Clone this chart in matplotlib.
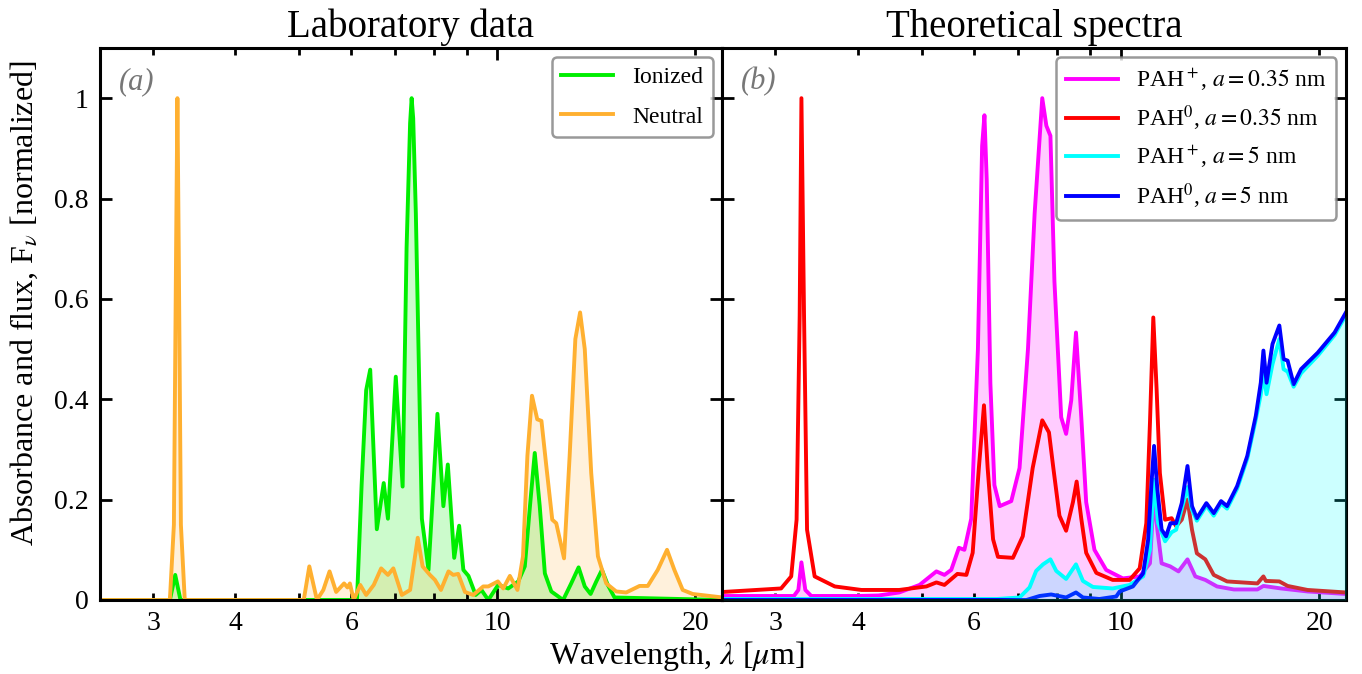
#!/usr/bin/env python3
"""PAH spectra: laboratory absorbance vs. theoretical emission (two panels)."""

import matplotlib
matplotlib.use("Agg")
import matplotlib.pyplot as plt
from matplotlib.ticker import FixedLocator, FixedFormatter, NullFormatter

# --- panel (a): laboratory data -------------------------------------------
ion_wl = [2.5, 3.18, 3.24, 3.30, 6.05, 6.12, 6.22, 6.32, 6.41, 6.56, 6.72, 6.82,
          7.01, 7.18, 7.28, 7.37, 7.41, 7.45, 7.52, 7.68, 7.86, 7.97, 8.11, 8.28,
          8.41, 8.60, 8.75, 8.88, 9.04, 9.27, 9.46, 9.69, 10.03, 10.39, 10.76,
          11.01, 11.21, 11.40, 11.60, 11.81, 12.08, 12.59, 12.95, 13.29, 13.58,
          13.86, 14.14, 14.42, 14.72, 15.07, 22.0]
ion_val = [0.0, 0.0, 0.05, 0.0, 0.0, 0.0, 0.229, 0.418, 0.459, 0.141, 0.233, 0.162,
           0.445, 0.226, 0.702, 0.95, 1.0, 0.96, 0.77, 0.162, 0.06, 0.196, 0.371, 0.187,
           0.27, 0.084, 0.148, 0.06, 0.048, 0.01, 0.02, 0.0, 0.03, 0.023, 0.037,
           0.067, 0.187, 0.293, 0.187, 0.053, 0.017, 0.0, 0.033, 0.065, 0.027,
           0.012, 0.037, 0.06, 0.03, 0.005, 0.0]

neu_wl = [2.5, 3.18, 3.225, 3.25, 3.265, 3.28, 3.305, 3.35, 5.08, 5.18, 5.32, 5.44,
          5.56, 5.69, 5.85, 5.92, 5.97, 6.05, 6.19, 6.32, 6.49, 6.66, 6.82, 6.95,
          7.16, 7.37, 7.57, 7.70, 7.90, 8.04, 8.21, 8.43, 8.57, 8.72, 8.93, 9.19,
          9.52, 9.69, 10.02, 10.21, 10.45, 10.73, 10.94, 11.11, 11.29, 11.50, 11.67,
          11.87, 12.12, 12.29, 12.63, 12.88, 13.14, 13.36, 13.58, 13.89, 14.22,
          14.64, 15.16, 15.70, 16.45, 16.93, 17.53, 18.11, 18.58, 19.13, 19.81, 22.0]
neu_val = [0.0, 0.0, 0.15, 0.7, 1.0, 0.7, 0.15, 0.0, 0.0, 0.067, 0.0, 0.02,
           0.057, 0.016, 0.033, 0.025, 0.033, 0.0, 0.03, 0.01, 0.03, 0.063, 0.05, 0.063,
           0.01, 0.02, 0.124, 0.067, 0.05, 0.04, 0.02, 0.057, 0.05, 0.052, 0.016, 0.01,
           0.027, 0.027, 0.037, 0.023, 0.048, 0.02, 0.087, 0.287, 0.407, 0.36, 0.357,
           0.267, 0.16, 0.153, 0.083, 0.287, 0.52, 0.573, 0.5, 0.253, 0.087,
           0.033, 0.017, 0.015, 0.028, 0.028, 0.06, 0.1, 0.06, 0.02, 0.012, 0.005]

# --- panel (b): theoretical spectra ----------------------------------------
ion_small_wl = [2.5, 3.20, 3.25, 3.285, 3.33, 3.40, 4.0, 4.3, 4.62, 4.96, 5.26, 5.41,
                5.54, 5.69, 5.80, 5.94, 6.08, 6.17, 6.22, 6.27, 6.35, 6.44, 6.56, 6.83,
                7.03, 7.24, 7.41, 7.61, 7.72, 7.83, 7.94, 8.13, 8.27, 8.42, 8.56, 8.72,
                8.87, 9.13, 9.51, 10.08, 10.69, 11.08, 11.23, 11.37, 11.54, 11.89, 12.24,
                12.63, 12.98, 13.44, 14.0, 14.85, 16.12, 16.46, 17.5, 19.2, 21.95]
ion_small_val = [0.008, 0.008, 0.02, 0.075, 0.02, 0.008, 0.008, 0.009, 0.015, 0.03, 0.057, 0.05,
                 0.06, 0.104, 0.1, 0.162, 0.5, 0.905, 0.966, 0.837, 0.432, 0.229, 0.187, 0.197,
                 0.263, 0.5, 0.77, 1.0, 0.945, 0.925, 0.635, 0.364, 0.331, 0.398, 0.533, 0.364,
                 0.195, 0.1, 0.06, 0.043, 0.047, 0.073, 0.207, 0.14, 0.073, 0.067, 0.057,
                 0.081, 0.047, 0.04, 0.027, 0.021, 0.021, 0.028, 0.023, 0.017, 0.012]

neu_small_wl = [2.5, 3.06, 3.17, 3.23, 3.265, 3.285, 3.315, 3.35, 3.44, 3.69, 4.05, 4.62,
                5.08, 5.26, 5.41, 5.66, 5.84, 5.97, 6.10, 6.21, 6.29, 6.41, 6.52, 6.87,
                7.11, 7.36, 7.61, 7.79, 7.91, 8.08, 8.27, 8.47, 8.58, 8.72, 8.87, 9.19,
                9.73, 10.32, 10.69, 10.94, 11.08, 11.21, 11.34, 11.47, 11.68, 11.95, 12.14,
                12.38, 12.63, 12.83, 13.05, 13.44, 13.84, 14.5, 16.12, 16.46, 16.6, 17.4,
                17.91, 19.2, 21.95]
neu_small_val = [0.016, 0.023, 0.047, 0.16, 0.567, 1.0, 0.567, 0.14, 0.047, 0.027, 0.02, 0.02,
                 0.027, 0.035, 0.03, 0.052, 0.05, 0.094, 0.263, 0.388, 0.263, 0.121, 0.086, 0.084,
                 0.127, 0.263, 0.358, 0.334, 0.263, 0.168, 0.138, 0.195, 0.236, 0.162, 0.094, 0.054,
                 0.04, 0.04, 0.063, 0.153, 0.353, 0.563, 0.42, 0.253, 0.16, 0.163, 0.147,
                 0.16, 0.2, 0.14, 0.093, 0.081, 0.05, 0.037, 0.033, 0.047, 0.038, 0.037,
                 0.028, 0.02, 0.015]

ion_large_wl = [2.5, 6.5, 7.03, 7.28, 7.45, 7.63, 7.83, 7.99, 8.27, 8.56, 8.77, 9.08,
                9.73, 10.32, 10.82, 11.08, 11.23, 11.40, 11.68, 11.95, 12.14, 12.63, 12.83,
                13.05, 13.49, 13.84, 14.2, 14.5, 15.02, 15.56, 16.03, 16.31, 16.46, 16.64,
                16.99, 17.4, 17.66, 17.91, 18.29, 18.77, 19.9, 21.1, 21.95]
ion_large_val = [0.002, 0.002, 0.005, 0.025, 0.058, 0.071, 0.081, 0.058, 0.042, 0.071, 0.038, 0.026,
                 0.023, 0.03, 0.047, 0.1, 0.24, 0.153, 0.117, 0.135, 0.14, 0.225, 0.18,
                 0.158, 0.188, 0.168, 0.192, 0.182, 0.222, 0.282, 0.36, 0.41, 0.45, 0.41,
                 0.47, 0.52, 0.46, 0.455, 0.425, 0.452, 0.487, 0.528, 0.568]

neu_large_wl = [2.5, 7.2, 7.54, 7.85, 8.27, 8.56, 8.77, 9.29, 9.85, 9.97, 10.44, 10.82,
                11.01, 11.14, 11.24, 11.37, 11.54, 11.72, 11.9, 12.14, 12.38, 12.63, 12.83,
                13.05, 13.49, 13.84, 14.2, 14.5, 15.02, 15.56, 16.03, 16.31, 16.46, 16.64,
                16.99, 17.4, 17.66, 17.91, 18.29, 18.77, 19.9, 21.1, 21.95]
neu_large_val = [0.0, 0.0, 0.008, 0.011, 0.005, 0.015, 0.005, 0.002, 0.007, 0.017, 0.027, 0.053,
                 0.12, 0.233, 0.307, 0.22, 0.14, 0.127, 0.153, 0.153, 0.193, 0.267, 0.187,
                 0.163, 0.193, 0.173, 0.197, 0.187, 0.227, 0.287, 0.367, 0.433, 0.497, 0.433,
                 0.51, 0.547, 0.48, 0.477, 0.43, 0.46, 0.493, 0.533, 0.573]

LAB_LABELS = ["Ionized", "Neutral"]
THEORY_LABELS = [r"PAH$^+$, $a = 0.35$ nm", r"PAH$^0$, $a = 0.35$ nm",
                 r"PAH$^+$, $a = 5$ nm", r"PAH$^0$, $a = 5$ nm"]
Y_TICKS = [0, 0.2, 0.4, 0.6, 0.8, 1.0]
Y_TICKLABELS = ["0", "0.2", "0.4", "0.6", "0.8", "1"]
X_MINOR = [3, 4, 5, 6, 7, 8, 9, 20]
X_MINOR_LABELS = ["3", "4", "", "6", "", "", "", "20"]

LW = 2.8

plt.rcParams["font.family"] = ["Liberation Serif", "DejaVu Serif"]
plt.rcParams["mathtext.fontset"] = "stix"
plt.rcParams["lines.solid_joinstyle"] = "round"


def style_axes(ax, show_ylabels):
    ax.set_xscale("log")
    ax.set_xlim(2.49, 21.95)
    ax.set_ylim(0, 1.1)
    ax.xaxis.set_major_locator(FixedLocator([10]))
    ax.xaxis.set_major_formatter(FixedFormatter(["10"]))
    ax.xaxis.set_minor_locator(FixedLocator(X_MINOR))
    ax.xaxis.set_minor_formatter(FixedFormatter(X_MINOR_LABELS))
    ax.set_yticks(Y_TICKS)
    if show_ylabels:
        ax.set_yticklabels(Y_TICKLABELS)
    else:
        ax.yaxis.set_major_formatter(NullFormatter())
    ax.tick_params(which="both", direction="in", top=True, right=True,
                   width=2.0, labelsize=20)
    ax.tick_params(which="major", length=8.5, pad=8)
    ax.tick_params(which="minor", length=5, pad=8)
    for sp in ax.spines.values():
        sp.set_linewidth(2.2)


def add_legend(ax, spacing):
    leg = ax.legend(loc="upper right", fontsize=17, handlelength=2.2,
                    labelspacing=spacing, borderaxespad=0.4, fancybox=True)
    leg.get_frame().set_edgecolor("#808080")
    leg.get_frame().set_linewidth(1.8)


def draw_lab(ax):
    ax.plot(ion_wl, ion_val, color="#00ee00", lw=LW, label=LAB_LABELS[0])
    ax.fill_between(ion_wl, ion_val, color="#00ee00", alpha=0.2, lw=0)
    ax.plot(neu_wl, neu_val, color="#ffb030", lw=LW, label=LAB_LABELS[1])
    ax.fill_between(neu_wl, neu_val, color="#ffb030", alpha=0.17, lw=0)
    ax.set_title("Laboratory data", fontsize=28, pad=8)
    ax.text(0.03, 0.965, "(a)", transform=ax.transAxes, fontsize=22,
            style="italic", color="#777777", va="top")
    add_legend(ax, 0.75)


def draw_theory(ax):
    ax.plot(ion_small_wl, ion_small_val, color="#ff00ff", lw=LW, label=THEORY_LABELS[0])
    ax.fill_between(ion_small_wl, ion_small_val, color="#ff00ff", alpha=0.2, lw=0)
    ax.plot(neu_small_wl, neu_small_val, color="#ff0000", lw=LW, label=THEORY_LABELS[1])
    ax.plot(ion_large_wl, ion_large_val, color="#00ffff", lw=LW, label=THEORY_LABELS[2])
    ax.plot(neu_large_wl, neu_large_val, color="#0000ff", lw=LW, label=THEORY_LABELS[3])
    ax.fill_between(ion_large_wl, ion_large_val, color="#00ffff", alpha=0.2, lw=0, zorder=3)
    ax.set_title("Theoretical spectra", fontsize=28, pad=8)
    ax.text(0.03, 0.965, "(b)", transform=ax.transAxes, fontsize=22,
            style="italic", color="#777777", va="top")
    add_legend(ax, 0.45)


def main():
    fig = plt.figure(figsize=(13.62, 6.74), dpi=100)
    ax_a = fig.add_axes([0.0734, 0.1098, 0.4567, 0.819])
    ax_b = fig.add_axes([0.5301, 0.1098, 0.4581, 0.819])

    draw_lab(ax_a)
    draw_theory(ax_b)
    style_axes(ax_a, True)
    style_axes(ax_b, False)

    fig.text(0.018, 0.55, r"Absorbance and flux, F$_\nu$ [normalized]",
             rotation=90, ha="center", va="center", fontsize=23)
    fig.text(0.497, 0.027, r"Wavelength, $\lambda$ [$\mu$m]",
             ha="center", va="center", fontsize=23)

    fig.savefig("out.png", dpi=100)
    plt.close(fig)


if __name__ == "__main__":
    main()
